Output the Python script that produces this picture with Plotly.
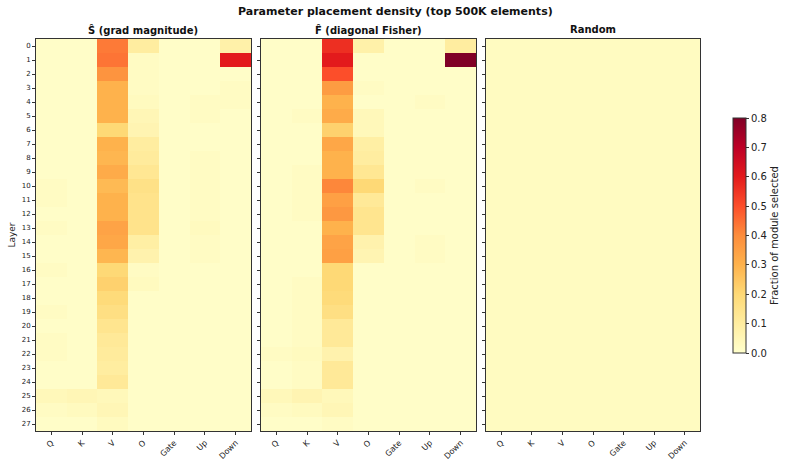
import plotly.graph_objects as go

modules = ["Q", "K", "V", "O", "Gate", "Up", "Down"]
layers = list(range(28))
panel_titles = ["Ŝ (grad magnitude)", "F̂ (diagonal Fisher)", "Random"]

# Ŝ (grad magnitude) per-module columns, layers 0..27
s_q = [0.01,0.01,0.01,0.01,0.01,0.01,0.01,0.01,0.01,0.01,0.02,0.02,0.01,0.02,0.01,0.01,0.02,0.01,0.01,0.02,0.01,0.02,0.02,0.01,0.01,0.04,0.02,0.01]
s_k = [0.01,0.01,0.01,0.01,0.01,0.01,0.01,0.01,0.01,0.01,0.01,0.01,0.01,0.01,0.01,0.01,0.01,0.01,0.01,0.01,0.01,0.01,0.01,0.01,0.01,0.05,0.03,0.01]
s_v = [0.43,0.44,0.38,0.30,0.30,0.30,0.20,0.30,0.29,0.32,0.28,0.30,0.30,0.34,0.33,0.29,0.20,0.22,0.19,0.17,0.14,0.12,0.11,0.10,0.12,0.04,0.05,0.03]
s_o = [0.10,0.02,0.02,0.02,0.03,0.05,0.06,0.10,0.11,0.13,0.16,0.15,0.15,0.15,0.09,0.07,0.02,0.03,0.01,0.01,0.01,0.01,0.01,0.01,0.01,0.01,0.01,0.01]
s_gate = [0.01]*28
s_up = [0.01,0.01,0.01,0.01,0.02,0.02,0.01,0.01,0.02,0.02,0.02,0.02,0.02,0.03,0.02,0.02,0.01,0.01,0.01,0.01,0.01,0.01,0.01,0.01,0.01,0.01,0.01,0.01]
s_down = [0.08,0.60,0.01,0.02,0.02,0.01,0.01,0.01,0.01,0.01,0.01,0.01,0.01,0.01,0.01,0.01,0.01,0.01,0.01,0.01,0.01,0.01,0.01,0.01,0.01,0.01,0.01,0.01]

# F̂ (diagonal Fisher)
f_q = [0.01,0.01,0.01,0.01,0.01,0.01,0.01,0.01,0.01,0.01,0.01,0.01,0.01,0.01,0.01,0.01,0.01,0.01,0.01,0.01,0.01,0.01,0.02,0.01,0.01,0.04,0.02,0.01]
f_k = [0.01,0.01,0.01,0.01,0.01,0.02,0.01,0.01,0.01,0.02,0.02,0.02,0.02,0.01,0.01,0.01,0.01,0.02,0.02,0.02,0.02,0.02,0.03,0.02,0.02,0.06,0.03,0.01]
f_v = [0.56,0.60,0.50,0.36,0.30,0.32,0.22,0.33,0.30,0.30,0.41,0.35,0.37,0.30,0.34,0.35,0.20,0.20,0.19,0.17,0.12,0.12,0.07,0.12,0.12,0.04,0.05,0.02]
f_o = [0.08,0.01,0.01,0.02,0.01,0.04,0.04,0.09,0.10,0.13,0.20,0.12,0.14,0.14,0.07,0.06,0.01,0.01,0.01,0.01,0.01,0.01,0.01,0.01,0.01,0.01,0.01,0.01]
f_gate = [0.01]*28
f_up = [0.01,0.01,0.01,0.01,0.02,0.01,0.01,0.01,0.01,0.01,0.02,0.01,0.01,0.01,0.02,0.02,0.01,0.01,0.01,0.01,0.01,0.01,0.01,0.01,0.01,0.01,0.01,0.01]
f_down = [0.10,0.80,0.01,0.01,0.01,0.01,0.01,0.01,0.01,0.01,0.01,0.01,0.01,0.01,0.01,0.01,0.01,0.01,0.01,0.01,0.01,0.01,0.01,0.01,0.01,0.01,0.01,0.01]

# Random placement
r_val = 0.025

def grid(cols):
    return [[c[i] for c in cols] for i in range(28)]

z_s = grid([s_q, s_k, s_v, s_o, s_gate, s_up, s_down])
z_f = grid([f_q, f_k, f_v, f_o, f_gate, f_up, f_down])
z_r = [[r_val]*7 for _ in range(28)]

ylorrd = [
    [0.0, "#ffffcc"], [0.125, "#ffeda0"], [0.25, "#fed976"], [0.375, "#feb24c"],
    [0.5, "#fd8d3c"], [0.625, "#fc4e2a"], [0.75, "#e31a1c"], [0.875, "#bd0026"],
    [1.0, "#800026"],
]

FONT = "DejaVu Sans"
fig = go.Figure()
zs = [z_s, z_f, z_r]
domains = [(36/788, 251/788), (261/788, 476/788), (486/788, 700/788)]
ydom = (1 - 431/465, 1 - 39/465)

for i, z in enumerate(zs):
    fig.add_trace(go.Heatmap(
        z=z, x=modules, y=layers, colorscale=ylorrd, zmin=0, zmax=0.8,
        xaxis="x" if i == 0 else f"x{i+1}", yaxis="y" if i == 0 else f"y{i+1}",
        showscale=(i == 0),
        colorbar=dict(
            x=733/788, xanchor="left", y=1 - 235.5/465, yanchor="middle",
            len=235/465, lenmode="fraction", thickness=13, outlinewidth=1,
            outlinecolor="#333", tickvals=[0, 0.1, 0.2, 0.3, 0.4, 0.5, 0.6, 0.7, 0.8],
            ticktext=["0.0", "0.1", "0.2", "0.3", "0.4", "0.5", "0.6", "0.7", "0.8"],
            ticks="outside", ticklen=3, tickcolor="#333", xpad=0, ypad=0,
            tickfont=dict(family=FONT, size=10, color="#222"),
            title=dict(text="Fraction of module selected", side="right",
                       font=dict(family=FONT, size=10, color="#222")),
        ),
    ))

axis_common = dict(showline=True, mirror=True, linecolor="#333", linewidth=1,
                   ticks="outside", ticklen=3, tickcolor="#333", showgrid=False, zeroline=False)
layout = dict(
    width=788, height=465, margin=dict(l=0, r=0, t=0, b=0, autoexpand=False),
    paper_bgcolor="white", plot_bgcolor="white",
    font=dict(family=FONT, color="#222"),
    annotations=[],
)
for i in range(3):
    sfx = "" if i == 0 else str(i+1)
    layout["xaxis" + sfx] = dict(domain=domains[i], anchor="y" + sfx, tickangle=-45,
                                 tickfont=dict(family=FONT, size=8, color="#222"), **axis_common)
    ydict = dict(domain=ydom, anchor="x" + sfx, autorange="reversed",
                 tickvals=layers, ticktext=[str(l) for l in layers],
                 showticklabels=(i == 0),
                 tickfont=dict(family=FONT, size=7, color="#222"), **axis_common)
    if i == 0:
        ydict["title"] = dict(text="Layer", font=dict(family=FONT, size=9, color="#222"), standoff=4)
    layout["yaxis" + sfx] = ydict
    layout["annotations"].append(dict(
        text="<b>" + panel_titles[i] + "</b>", x=(domains[i][0] + domains[i][1]) / 2,
        y=1 - 30/465, xref="paper", yref="paper", showarrow=False,
        font=dict(family=FONT, size=10, color="#111"), xanchor="center", yanchor="middle"))

layout["annotations"].append(dict(
    text="<b>Parameter placement density (top 500K elements)</b>", x=395/788, y=1 - 12/465,
    xref="paper", yref="paper", showarrow=False,
    font=dict(family=FONT, size=11, color="#111"), xanchor="center", yanchor="middle"))

fig.update_layout(**layout)
fig.write_html("out.html")
